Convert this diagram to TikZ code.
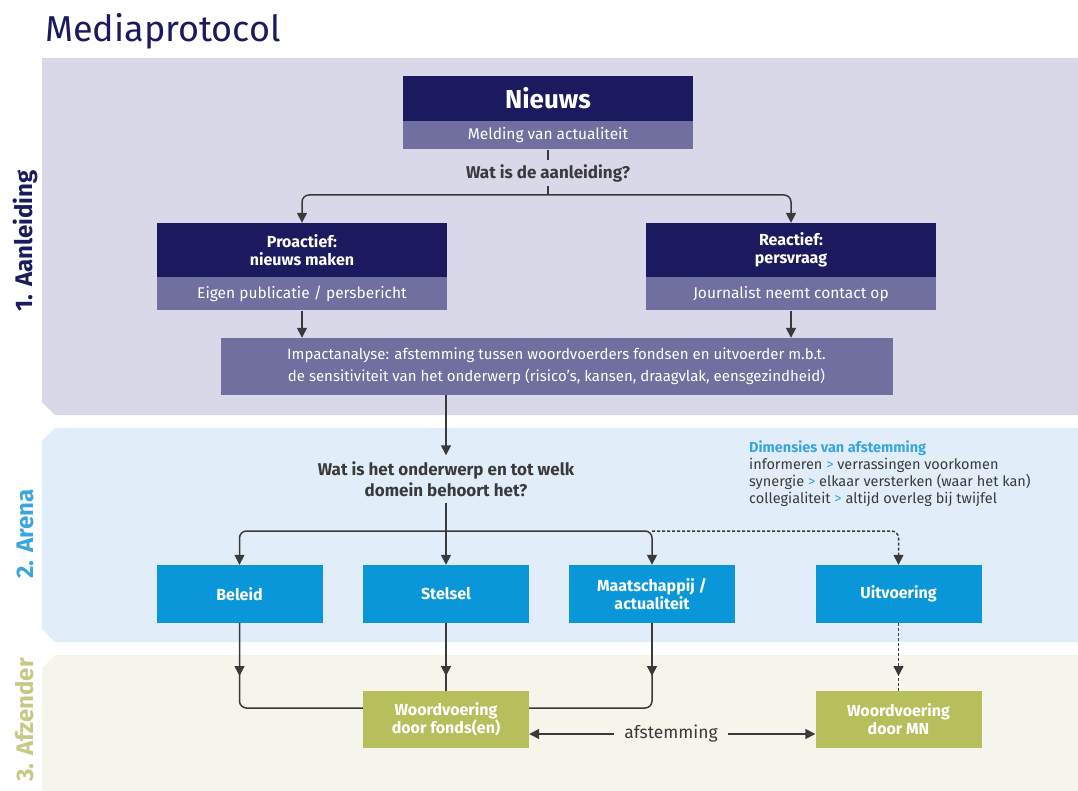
\documentclass[tikz,border=0pt]{standalone}
\usepackage{fontspec}
\setmainfont{Fira Sans}
\usepackage{xcolor}
\usepackage{tikz}
\usetikzlibrary{arrows.meta,calc}

\definecolor{mpNavy}{HTML}{1B1A5E}
\definecolor{mpPurple}{HTML}{706F9F}
\definecolor{mpLavender}{HTML}{D9D8E8}
\definecolor{mpSky}{HTML}{E1EEF9}
\definecolor{mpCream}{HTML}{F5F5EC}
\definecolor{mpBlue}{HTML}{0A97D9}
\definecolor{mpArena}{HTML}{3BA6DE}
\definecolor{mpOlive}{HTML}{B6BF5C}
\definecolor{mpAfz}{HTML}{C4CA84}
\definecolor{mpLine}{HTML}{3A3A3A}

\tikzstyle{tsBox} = [ 
    rectangle,
    inner sep=0pt,
    align=center,
    text=white,
    font=\fontsize{15.5}{18}\selectfont
]
\tikzstyle{tsHead} = [ 
    tsBox,
    fill=mpNavy,
    font=\bfseries\fontsize{16}{18}\selectfont,
    minimum width=290pt,
    minimum height=54pt
]
\tikzstyle{tsSub} = [ 
    tsBox,
    fill=mpPurple,
    minimum width=290pt,
    minimum height=33pt
]
\tikzstyle{tsArena} = [ 
    tsBox,
    fill=mpBlue,
    font=\bfseries\fontsize{16}{18}\selectfont,
    minimum width=166pt,
    minimum height=58pt
]
\tikzstyle{tsSender} = [ 
    tsBox,
    fill=mpOlive,
    font=\bfseries\fontsize{16}{18}\selectfont,
    minimum width=166pt,
    minimum height=57pt
]
\tikzstyle{tsQuestion} = [ 
    text=mpLine,
    align=center,
    inner sep=4pt,
    font=\bfseries\fontsize{17}{21}\selectfont
]
\tikzstyle{tsLabel} = [ 
    rotate=90,
    inner sep=0pt,
    font=\bfseries\fontsize{24}{28}\selectfont
]
\tikzstyle{tsLine} = [ 
    draw=mpLine,
    line width=1.5pt,
    rounded corners=7pt
]
\tikzstyle{tsArrow} = [ 
    tsLine,
    -{Triangle[length=10pt,width=10pt]}
]
\tikzstyle{tsDotted} = [ 
    dash pattern=on 3pt off 2pt
]

\begin{document}
\begin{tikzpicture}[x=1pt, y=-1pt]

        \useasboundingbox (0,0) rectangle (1078,791);

        % bands
        \fill[mpLavender] (42,58) -- (1078,58) -- (1078,415) -- (55,415) -- (42,402) -- cycle;
        \fill[mpSky] (42,441) -- (55,428) -- (1078,428) -- (1078,642) -- (55,642) -- (42,629) -- cycle;
        \fill[mpCream] (42,668) -- (55,655) -- (1078,655) -- (1078,791) -- (42,791) -- cycle;

        \node[anchor=base west, inner sep=0pt, text=mpNavy,
              font=\fontsize{36}{42}\selectfont] (title) at (45,42) {Mediaprotocol};

        \node[tsLabel, text=mpNavy] (lblAanleiding) at (25,241) {1. Aanleiding};
        \node[tsLabel, text=mpArena] (lblArena) at (25,534) {2. Arena};
        \node[tsLabel, text=mpAfz] (lblAfzender) at (25,720) {3. Afzender};

        % 1. Aanleiding
        \node[tsHead, minimum height=45pt, font=\bfseries\fontsize{26}{30}\selectfont] (nieuws) at (548,98.5) {Nieuws};
        \node[tsSub, minimum height=28pt, anchor=north] (melding) at (nieuws.south) {Melding van actualiteit};

        \node[tsQuestion] (aanleiding) at (548,173) {Wat is de aanleiding?};
        \coordinate (splitA) at (548,195);

        \node[tsHead] (proactief) at (302,250) {Proactief:\\nieuws maken};
        \node[tsSub, anchor=north] (eigen) at (proactief.south) {Eigen publicatie / persbericht};
        \node[tsHead] (reactief) at (791,250) {Reactief:\\persvraag};
        \node[tsSub, anchor=north] (journalist) at (reactief.south) {Journalist neemt contact op};

        \node[tsSub, minimum width=672pt, minimum height=57pt, font=\fontsize{15}{22}\selectfont] (impact) at (556.5,366.5)
            {Impactanalyse: afstemming tussen woordvoerders fondsen en uitvoerder m.b.t.\\
             de sensitiviteit van het onderwerp (risico's, kansen, draagvlak, eensgezindheid)};

        \draw[tsLine] (melding.south) -- (aanleiding.north);
        \draw[tsLine] (aanleiding.south) -- (splitA);
        \draw[tsArrow] (splitA) -| (proactief.north);
        \draw[tsArrow] (splitA) -| (reactief.north);
        \draw[tsArrow] (eigen.south) -- (eigen.south |- impact.north);
        \draw[tsArrow] (journalist.south) -- (journalist.south |- impact.north);

        % 2. Arena
        \node[tsQuestion, inner sep=6pt] (onderwerp) at (446,479) {Wat is het onderwerp en tot welk\\domein behoort het?};
        \coordinate (splitB) at (446,531);

        \node[anchor=north west, align=left, inner sep=0pt, text=mpLine,
              font=\fontsize{14.5}{17}\selectfont] (dimensies) at (749,441)
            {\textcolor{mpArena}{\bfseries Dimensies van afstemming}\\
             informeren \textcolor{mpArena}{>} verrassingen voorkomen\\
             synergie \textcolor{mpArena}{>} elkaar versterken (waar het kan)\\
             collegialiteit \textcolor{mpArena}{>} altijd overleg bij twijfel};

        \node[tsArena] (beleid) at (239.5,594) {Beleid};
        \node[tsArena] (stelsel) at (446,594) {Stelsel};
        \node[tsArena] (maatschappij) at (652,594) {Maatschappij /\\actualiteit};
        \node[tsArena] (uitvoering) at (898.5,594) {Uitvoering};

        \draw[tsArrow] (impact.south -| onderwerp.north) -- (onderwerp.north);
        \draw[tsLine] (onderwerp.south) -- (splitB);
        \draw[tsArrow] (splitB) -- (stelsel.north);
        \draw[tsArrow] (splitB) -| (beleid.north);
        \draw[tsArrow] (splitB) -| (maatschappij.north);
        \draw[tsArrow, tsDotted] (maatschappij.north |- splitB) -| (uitvoering.north);

        % 3. Afzender
        \node[tsSender] (fondsen) at (446,719.5) {Woordvoering\\door fonds(en)};
        \node[tsSender] (mn) at (898.5,719.5) {Woordvoering\\door MN};
        \node[inner sep=10pt, text=mpLine, font=\fontsize{17.5}{20}\selectfont] (afstemming) at (671,734) {afstemming};

        \coordinate (tipRow) at (0,676);
        \coordinate (joinRow) at (0,708);

        \draw[tsLine] (beleid.south) |- (fondsen.west |- joinRow);
        \draw[tsArrow] (beleid.south) -- (beleid.south |- tipRow);
        \draw[tsLine] (stelsel.south) -- (fondsen.north);
        \draw[tsArrow] (stelsel.south) -- (stelsel.south |- tipRow);
        \draw[tsLine] (maatschappij.south) |- (fondsen.east |- joinRow);
        \draw[tsArrow] (maatschappij.south) -- (maatschappij.south |- tipRow);
        \draw[tsLine, tsDotted] (uitvoering.south) -- (mn.north);
        \draw[tsArrow, tsDotted] (uitvoering.south) -- (uitvoering.south |- tipRow);

        \draw[tsArrow] (afstemming.west) -- (afstemming.west -| fondsen.east);
        \draw[tsArrow] (afstemming.east) -- (afstemming.east -| mn.west);

\end{tikzpicture}
\end{document}
